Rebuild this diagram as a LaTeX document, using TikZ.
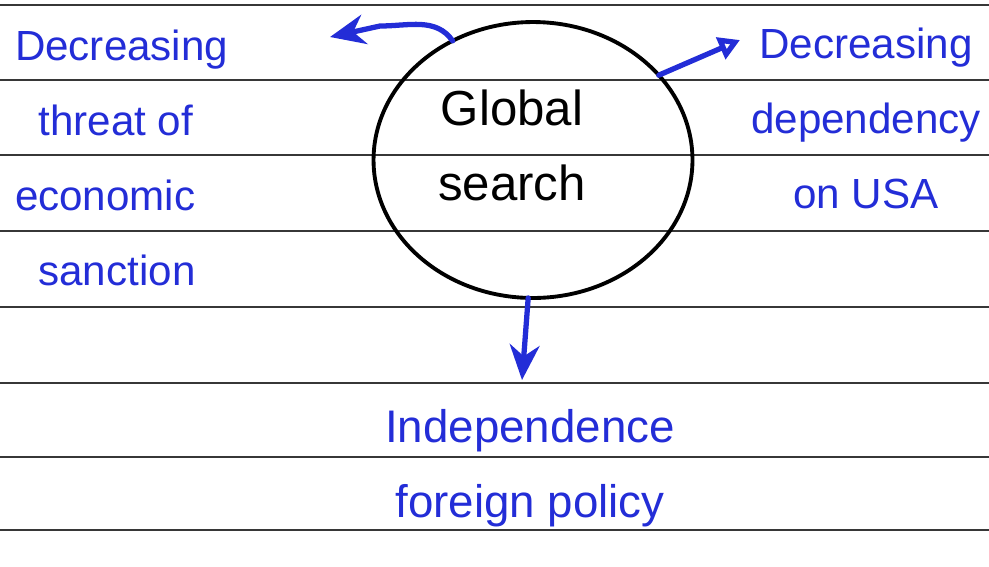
\documentclass[tikz,border=0pt]{standalone}
\usepackage{fontspec}
\setmainfont{Liberation Sans}
\usetikzlibrary{shapes.geometric,arrows.meta}
\definecolor{ink}{RGB}{35,45,215}
\definecolor{rule}{RGB}{55,55,55}

\begin{document}
\begin{tikzpicture}[x=0.02cm,y=-0.02cm,inner sep=0pt,outer sep=0pt,
inktext/.style={text=ink,font=\fontsize{24}{42.7}\selectfont},
inkline/.style={draw=ink,line width=3pt,line cap=round},
globe/.style={draw,ellipse,minimum width=6.38cm,minimum height=5.52cm,line width=2.2pt}]

\useasboundingbox (0,0) rectangle (989,566);
\foreach \y in {5,80,155,231,307,383,457,530}
  \draw[rule,line width=1.2pt] (0,\y) -- (989,\y);

\draw (533,160) node[globe] (gs) {};
\draw (512,145) node[align=center,font=\fontsize{28}{42.7}\selectfont] (gstext) {Global\\search};

\draw (15,158) node[inktext,anchor=west,align=left] (threat) {Decreasing\\\ \ threat of\\economic\\\ \ sanction};
\draw (866,118) node[inktext,align=center] (usa) {Decreasing\\dependency\\on USA};
\draw (530,468) node[inktext,align=center,font=\fontsize{26}{42.7}\selectfont] (indep) {Independence\\foreign policy};

\coordinate (ltip) at (330,37);
\coordinate (rtip) at (740,40);
\coordinate (btip) at (522,380);

\draw[inkline,-{Stealth[length=20pt,width=17pt]}] (gs.124) to[out=125,in=0] (380,26) -- (ltip);
\draw[inkline,-{Triangle[open,length=12pt,width=13pt]}] (gs.34) -- (rtip);
\draw[inkline,-{Stealth[length=20pt,width=17pt]}] (gs.-92) -- (btip);
\end{tikzpicture}
\end{document}
